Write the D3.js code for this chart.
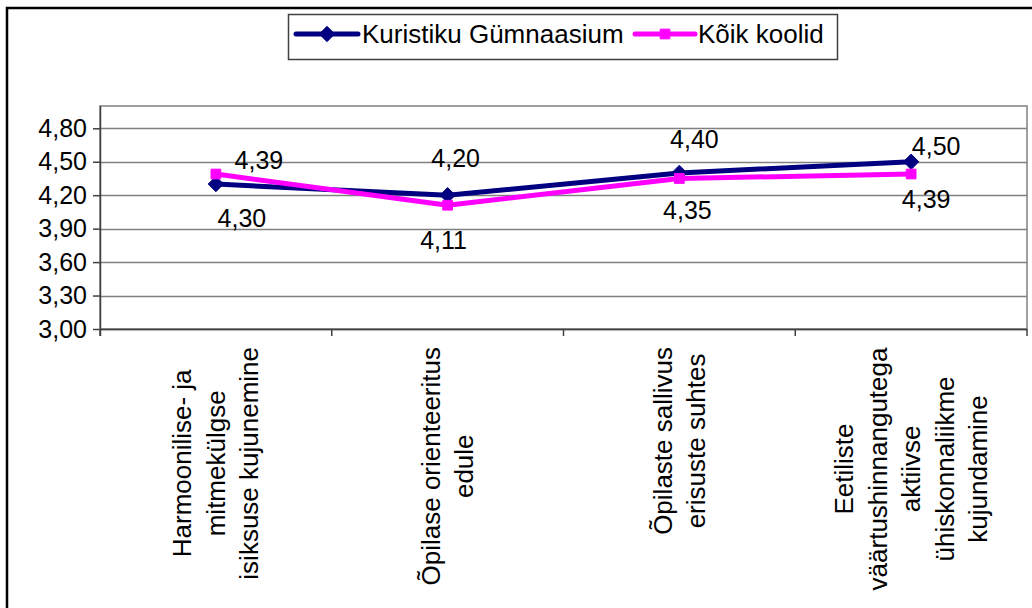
<!DOCTYPE html>
<html>
<head>
<meta charset="utf-8">
<script src="https://cdn.jsdelivr.net/npm/d3@7/dist/d3.min.js"></script>
<style>
  html, body { margin: 0; padding: 0; background: #fff; }
  svg { display: block; font-family: "Liberation Sans", Arial, sans-serif; }
</style>
</head>
<body>
<svg id="chart" width="1032" height="608"></svg>
<script>
// ---- data ----
const categories = [
  ["Harmoonilise- ja", "mitmekülgse", "isiksuse kujunemine"],
  ["Õpilase orienteeritus", "edule"],
  ["Õpilaste sallivus", "erisuste suhtes"],
  ["Eetiliste", "väärtushinnangutega", "aktiivse", "ühiskonnaliikme", "kujundamine"]
];
const seriesNames = ["Kuristiku Gümnaasium", "Kõik koolid"];
const kuristikuValues = [4.30, 4.20, 4.40, 4.50];
const koikValues = [4.39, 4.11, 4.35, 4.39];
const yTickValues = [3.00, 3.30, 3.60, 3.90, 4.20, 4.50, 4.80];

// ---- layout / styles ----
const W = 1032, H = 608;
const plot = { left: 100, top: 106, right: 1027, bottom: 329 };
const colors = ["#000080", "#FF00FF"];
const fontSize = 25;
// label offsets (dx, dy of label center / baseline relative to the point)
const labelOffsets = [
  [[26, 43], [8, -28], [15, -25], [25, -7]],
  [[43, -5], [-4, 44], [8, 41], [15, 34]]
];

const svg = d3.select("#chart");

// outer border
svg.append("rect").attr("x", 7).attr("y", 8).attr("width", W + 20).attr("height", H + 20)
  .attr("fill", "#fff").attr("stroke", "#000").attr("stroke-width", 2.5);

const x = d3.scaleBand().domain(d3.range(categories.length))
  .range([plot.left, plot.right]).paddingInner(0).paddingOuter(0);
const y = d3.scaleLinear().domain([3, 5]).range([plot.bottom, plot.top]);

// plot area border
svg.append("rect").attr("x", plot.left).attr("y", plot.top)
  .attr("width", plot.right - plot.left).attr("height", plot.bottom - plot.top)
  .attr("fill", "#fff").attr("stroke", "#808080").attr("stroke-width", 1.5);

// gridlines
svg.append("g").selectAll("line").data(yTickValues).join("line")
  .attr("x1", plot.left).attr("x2", plot.right)
  .attr("y1", d => Math.round(y(d)) + 0.5).attr("y2", d => Math.round(y(d)) + 0.5)
  .attr("stroke", "#808080").attr("stroke-width", 1.5);

// y axis
const yAxis = d3.axisLeft(y).tickValues(yTickValues).tickSize(7).tickPadding(6)
  .tickFormat(d => d3.format(".2f")(d).replace(".", ","));
const gy = svg.append("g").attr("transform", `translate(${plot.left},0)`).call(yAxis);
gy.select(".domain").attr("stroke", "#404040").attr("stroke-width", 1.5)
  .attr("d", `M0.5,${plot.top}V${plot.bottom + 7}`);
gy.selectAll(".tick line").attr("stroke", "#404040").attr("stroke-width", 1.5);
gy.selectAll(".tick text").attr("font-size", fontSize).attr("fill", "#000")
  .attr("font-family", "Liberation Sans, Arial, sans-serif");

// x axis
const gx = svg.append("g");
gx.append("line").attr("x1", plot.left).attr("x2", plot.right)
  .attr("y1", plot.bottom + 0.5).attr("y2", plot.bottom + 0.5)
  .attr("stroke", "#404040").attr("stroke-width", 1.5);
const bounds = d3.range(categories.length + 1).map(i => i < categories.length ? x(i) : x(i - 1) + x.bandwidth());
gx.selectAll("line.tk").data(bounds).join("line").attr("class", "tk")
  .attr("x1", d => d).attr("x2", d => d)
  .attr("y1", plot.bottom).attr("y2", plot.bottom + 7)
  .attr("stroke", "#404040").attr("stroke-width", 1.5);

// category labels (rotated, multiline, right-aligned at top)
const lineH = 33.5;
categories.forEach((lines, i) => {
  const cx = x(i) + x.bandwidth() / 2;
  const n = lines.length;
  const g = svg.append("g").attr("transform", `translate(${cx},${plot.bottom + 18}) rotate(-90)`);
  const t = g.append("text").attr("text-anchor", "middle").attr("font-size", 26).attr("fill", "#000");
  lines.forEach((ln, k) => {
    t.append("tspan").attr("x", 0)
      .attr("y", (k - (n - 1) / 2) * lineH + 9)
      .text(ln);
  });
  const bb = t.node().getBBox();
  t.attr("transform", `translate(${-bb.x - bb.width},0)`);
});

// lines + markers
const allSeries = [kuristikuValues, koikValues];
const line = d3.line().x((d, i) => x(i) + x.bandwidth() / 2).y(d => y(d));
allSeries.forEach((vals, s) => {
  svg.append("path").datum(vals).attr("d", line)
    .attr("fill", "none").attr("stroke", colors[s]).attr("stroke-width", 5)
    .attr("stroke-linejoin", "round");
  const sym = s === 0 ? d3.symbol(d3.symbolDiamond2, 150) : d3.symbol(d3.symbolSquare2, 120);
  svg.append("g").selectAll("path").data(vals).join("path")
    .attr("transform", (d, i) => `translate(${x(i) + x.bandwidth() / 2},${y(d)})`)
    .attr("d", sym).attr("fill", colors[s]).attr("stroke", colors[s]).attr("stroke-width", 1);
});

// data labels
allSeries.forEach((vals, s) => {
  svg.append("g").selectAll("text").data(vals).join("text")
    .attr("x", (d, i) => x(i) + x.bandwidth() / 2 + labelOffsets[s][i][0])
    .attr("y", (d, i) => y(d) + labelOffsets[s][i][1])
    .attr("text-anchor", "middle").attr("font-size", fontSize).attr("fill", "#000")
    .text(d => d3.format(".2f")(d).replace(".", ","));
});

// legend
const lg = svg.append("g");
lg.append("rect").attr("x", 288.5).attr("y", 14.5).attr("width", 549).attr("height", 45)
  .attr("fill", "#fff").attr("stroke", "#404040").attr("stroke-width", 1.5);
const legendItems = [
  { x1: 296, x2: 358, tx: 362 },
  { x1: 635, x2: 695, tx: 698 }
];
seriesNames.forEach((name, s) => {
  const it = legendItems[s];
  lg.append("line").attr("x1", it.x1).attr("x2", it.x2).attr("y1", 34).attr("y2", 34)
    .attr("stroke", colors[s]).attr("stroke-width", 5).attr("stroke-linecap", "round");
  const sym = s === 0 ? d3.symbol(d3.symbolDiamond2, 150) : d3.symbol(d3.symbolSquare2, 120);
  lg.append("path").attr("transform", `translate(${(it.x1 + it.x2) / 2},34)`)
    .attr("d", sym).attr("fill", colors[s]).attr("stroke", colors[s]);
  lg.append("text").attr("x", it.tx).attr("y", 43).attr("font-size", 26).attr("fill", "#000").text(name);
});
</script>
</body>
</html>
